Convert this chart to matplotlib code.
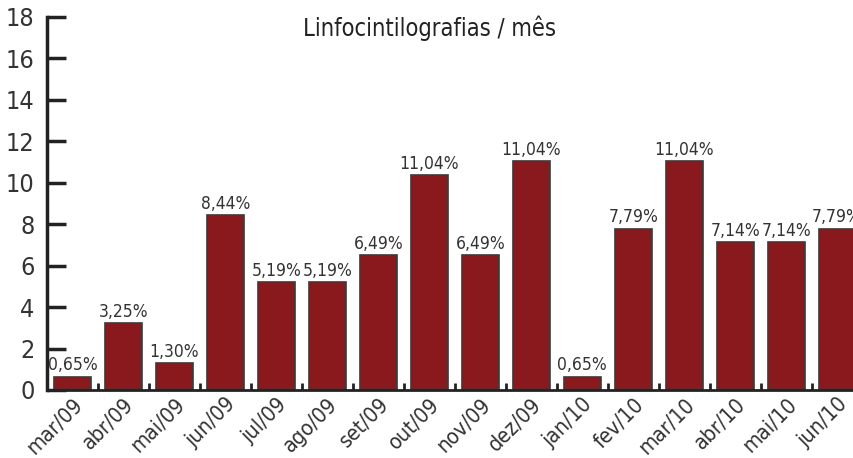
import matplotlib
matplotlib.use("Agg")
import matplotlib.pyplot as plt
import numpy as np

plt.rcParams['font.family'] = ['DejaVu Sans']
plt.rcParams['font.stretch'] = 'condensed'

# dados
meses = ['mar/09', 'abr/09', 'mai/09', 'jun/09', 'jul/09', 'ago/09', 'set/09', 'out/09',
         'nov/09', 'dez/09', 'jan/10', 'fev/10', 'mar/10', 'abr/10', 'mai/10', 'jun/10']
alturas = [0.65, 3.25, 1.30, 8.44, 5.19, 5.19, 6.49, 10.39,
           6.49, 11.04, 0.65, 7.79, 11.04, 7.14, 7.14, 7.79]
rotulos = ['0,65%', '3,25%', '1,30%', '8,44%', '5,19%', '5,19%', '6,49%', '11,04%',
           '6,49%', '11,04%', '0,65%', '7,79%', '11,04%', '7,14%', '7,14%', '7,79%']

cor_barra = '#8a191d'
cor_texto = '#333333'

fig = plt.figure(figsize=(8.54, 4.58), dpi=100)
ax = fig.add_axes([0.055, 0.1485, 0.945, 0.8145])

x = np.arange(len(meses))
ax.bar(x, alturas, width=0.73, color=cor_barra, edgecolor='#3a3a3a', linewidth=1.2, zorder=2)

for xi, h, r in zip(x, alturas, rotulos):
    ax.text(xi, h + 0.1, r, ha='center', va='bottom', fontsize=12.5, color=cor_texto)

ax.set_xlim(-0.5, 15.33)
ax.set_ylim(0, 18)
ax.set_yticks(np.arange(0, 19, 2))
ax.tick_params(axis='y', direction='in', length=14, width=2.5, color='#222222',
               labelsize=18, labelcolor=cor_texto, pad=9)

ax.set_xticks(x)
ax.set_xticklabels(meses, rotation=45, ha='right', rotation_mode='anchor',
                   fontsize=15.5, color=cor_texto)
ax.tick_params(axis='x', which='major', length=0, pad=3)
ax.set_xticks(x[:-1] + 0.5, minor=True)
ax.tick_params(axis='x', which='minor', direction='in', length=5, width=2, color='#222222')

for s in ['top', 'right']:
    ax.spines[s].set_visible(False)
ax.spines['left'].set_linewidth(2.5)
ax.spines['left'].set_color('#222222')
ax.spines['bottom'].set_linewidth(2)
ax.spines['bottom'].set_color('#222222')

fig.text(0.503, 0.938, 'Linfocintilografias / mês', ha='center', va='center',
         fontsize=17, color='#222222')

fig.savefig('out.png', dpi=100)
